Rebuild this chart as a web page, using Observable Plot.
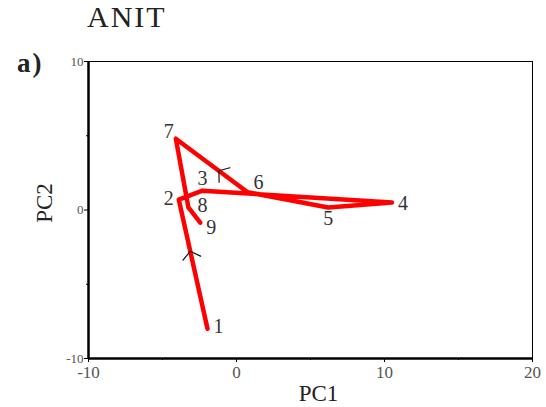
<!DOCTYPE html>
<html>
<head>
<meta charset="utf-8">
<script src="https://cdn.jsdelivr.net/npm/d3@7"></script>
<script src="https://cdn.jsdelivr.net/npm/@observablehq/plot@0.6"></script>
<style>
  html, body { margin: 0; padding: 0; background: #fff; }
  #wrap { position: relative; width: 546px; height: 407px; font-family: "Liberation Serif", "DejaVu Serif", serif; }
  .lbl { position: absolute; color: #222; white-space: nowrap; line-height: 1; z-index: 2; }
</style>
</head>
<body>
<div id="wrap">
  <div class="lbl" style="left:87px; top:2px; font-size:30px; letter-spacing:2px;">ANIT</div>
  <div class="lbl" style="left:17px; top:50px; font-size:27px; font-weight:bold; letter-spacing:2px;">a)</div>
</div>
<script>
// Sample (time step) labels and PCA scores
const steps = ["1", "2", "3", "4", "5", "6", "7", "8", "9"];
const pc1 = [-1.96, -3.9, -2.3, 10.5, 6.2, 0.75, -4.1, -3.25, -2.45];
const pc2 = [-8.0, 0.7, 1.3, 0.5, 0.17, 1.2, 4.8, 0.17, -0.85];

// Direction arrowheads: segment start index and fraction along that segment
const arrowFrom = [0, 5];
const arrowFrac = [0.6, 0.4];

// Axis ticks
const xTicks = [-10, 0, 10, 20];
const xMinor = [-5, 5, 15];
const yTicks = [-10, 0, 10];
const yMinor = [-5, 5];

const W = 546, H = 407;
const M = {left: 88, right: 14, top: 61, bottom: 49};
const kx = (W - M.left - M.right) / 30;
const ky = (H - M.top - M.bottom) / 20;

const pts = steps.map((s, i) => ({step: s, x: pc1[i], y: pc2[i]}));

const arrows = arrowFrom.map((i, k) => {
  const a = pts[i], b = pts[i + 1], t = arrowFrac[k];
  const ang = Math.atan2((b.x - a.x) * kx, (b.y - a.y) * ky) * 180 / Math.PI;
  return {x: a.x + t * (b.x - a.x), y: a.y + t * (b.y - a.y), rot: ang};
});

// label offsets (pixels) per step label
const off = {"1": [11, -2], "2": [-10, -1], "3": [0, -12], "4": [11, 1], "5": [0, 11],
             "6": [11, -10], "7": [-7, -7], "8": [14, -2], "9": [11, 5]};

const chevron = {
  draw(context) {
    context.moveTo(-9, 7);
    context.lineTo(0, 0);
    context.lineTo(9, 7);
  }
};

const serif = "Liberation Serif, DejaVu Serif, serif";

const chart = Plot.plot({
  width: W, height: H,
  marginLeft: M.left, marginRight: M.right, marginTop: M.top, marginBottom: M.bottom,
  style: {fontFamily: serif, background: "transparent"},
  x: {type: "linear", domain: [-10, 20]},
  y: {type: "linear", domain: [-10, 10]},
  marks: [
    Plot.frame({stroke: "#000", strokeWidth: 1}),
    Plot.ruleX([-10], {stroke: "#000", strokeWidth: 2.5}),
    Plot.ruleY([-10], {stroke: "#000", strokeWidth: 2.5}),
    Plot.axisX({ticks: xTicks, tickSize: 4, tickWidth: 2, tickPadding: 3, fontSize: 17, fill: "#555",
      tickFormat: d => String(d), label: null, style: {letterSpacing: "4px"}}),
    Plot.axisX({ticks: xMinor, tickSize: 2, tickFormat: () => "", label: null}),
    Plot.axisY({ticks: yTicks, tickSize: 4, tickWidth: 2, tickPadding: 1, fontSize: 13, fill: "#555",
      tickFormat: d => String(d), label: null}),
    Plot.axisY({ticks: yMinor, tickSize: 2, tickFormat: () => "", label: null}),
    Plot.line(pts, {x: "x", y: "y", stroke: "#ff0000", strokeWidth: 4.5, strokeLinejoin: "round"}),
    ...steps.map(s => Plot.text(pts.filter(p => p.step === s), {
      x: "x", y: "y", text: "step", dx: off[s][0], dy: off[s][1],
      fontSize: 20, fill: "#333", fontFamily: serif
    })),
    Plot.vector(arrows, {x: "x", y: "y", rotate: "rot", length: 1, shape: chevron,
      stroke: "#111", strokeWidth: 1.2, anchor: "start"}),
    Plot.text(["PC1"], {frameAnchor: "bottom", textAnchor: "middle", text: d => d, dx: 8, dy: 42,
      fontSize: 23, fill: "#222", fontFamily: serif, style: {letterSpacing: "2px"}}),
    Plot.text(["PC2"], {frameAnchor: "left", textAnchor: "middle", text: d => d, dx: -44, dy: -7, rotate: -90,
      fontSize: 23, fill: "#222", fontFamily: serif})
  ]
});
document.getElementById("wrap").appendChild(chart);
chart.style.position = "absolute";
chart.style.left = "0";
chart.style.top = "0";
</script>
</body>
</html>
